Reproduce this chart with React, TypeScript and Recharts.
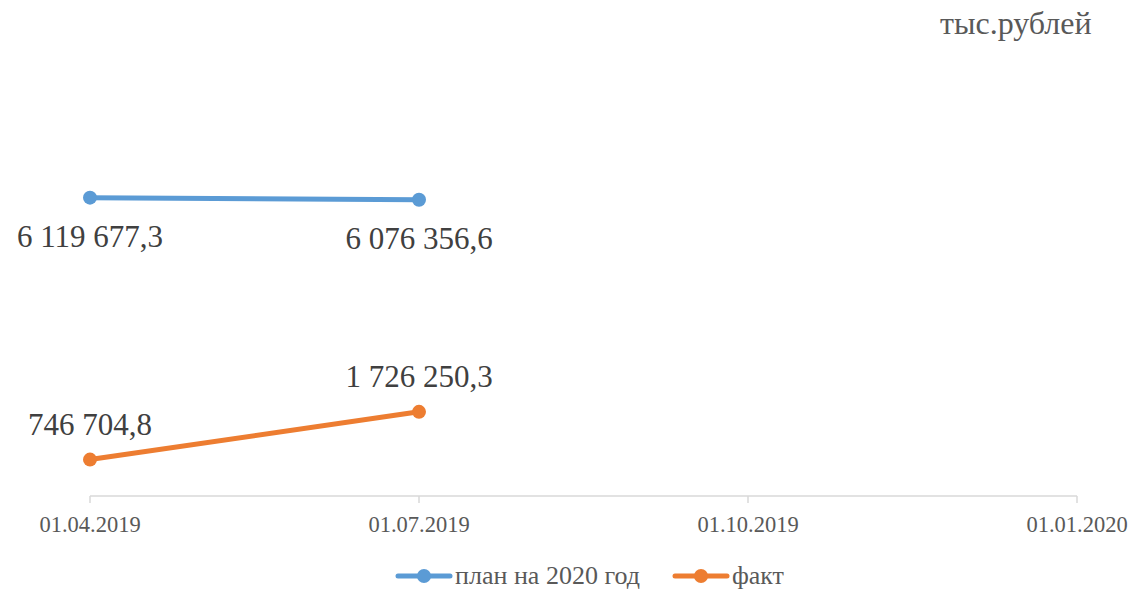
import React from 'react'
import { LineChart, Line, XAxis, YAxis, LabelList, Legend } from 'recharts'

const dates = ['01.04.2019', '01.07.2019', '01.10.2019', '01.01.2020']
const plan = [6119677.3, 6076356.6, null, null]
const fact = [746704.8, 1726250.3, null, null]

const data = dates.map((d, i) => ({ date: d, plan: plan[i], fact: fact[i] }))

const BLUE = '#5B9BD5'
const ORANGE = '#ED7D31'
const FONT = '"Liberation Serif", "Times New Roman", serif'

function fmt(v: number): string {
  const [int, dec] = v.toFixed(1).split('.')
  return int.replace(/\B(?=(\d{3})+(?!\d))/g, ' ') + ',' + dec
}

function makeLabel(dy: number) {
  return (props: any) => {
    const { x, y, value } = props
    if (value == null) return null
    return (
      <text x={x} y={y + dy} textAnchor="middle" dominantBaseline="central" fill="#404040" fontSize={31} fontFamily={FONT}>
        {fmt(value)}
      </text>
    )
  }
}

function LegendContent() {
  const items = [
    { name: 'план на 2020 год', color: BLUE },
    { name: 'факт', color: ORANGE },
  ]
  return (
    <div style={{ display: 'flex', justifyContent: 'center', gap: 32, fontFamily: FONT, fontSize: 26, color: '#595959', paddingTop: 10, paddingLeft: 12 }}>
      {items.map((it) => (
        <div key={it.name} style={{ display: 'flex', alignItems: 'center' }}>
          <svg width={58} height={16} style={{ marginRight: 2 }}>
            <line x1={3} y1={8} x2={55} y2={8} stroke={it.color} strokeWidth={5} strokeLinecap="round" />
            <circle cx={29} cy={8} r={7} fill={it.color} />
          </svg>
          <span>{it.name}</span>
        </div>
      ))}
    </div>
  )
}

export default function App() {
  return (
    <div style={{ position: 'absolute', left: 0, top: 0, width: 1135, height: 591, background: '#fff' }}>
      <div style={{ position: 'absolute', left: 940, top: 5, fontFamily: FONT, fontSize: 32, color: '#595959' }}>
        тыс.рублей
      </div>
      <LineChart width={1135} height={591} data={data} margin={{ top: 106, right: 58, bottom: 25, left: 90 }}>
        <XAxis
          dataKey="date"
          height={30}
          stroke="#D9D9D9"
          strokeWidth={1.5}
          tickSize={7}
          tick={{ fill: '#595959', fontSize: 22.5, fontFamily: FONT, dy: 11 }}
          interval={0}
        />
        <YAxis hide domain={[0, 8000000]} />
        <Legend verticalAlign="bottom" content={<LegendContent />} height={40} wrapperStyle={{ bottom: 0 }} />
        <Line
          dataKey="plan"
          stroke={BLUE}
          strokeWidth={5}
          dot={{ r: 7, fill: BLUE, stroke: BLUE, strokeWidth: 0 }}
          activeDot={false}
          isAnimationActive={false}
          connectNulls={false}
        >
          <LabelList dataKey="plan" content={makeLabel(39)} />
        </Line>
        <Line
          dataKey="fact"
          stroke={ORANGE}
          strokeWidth={5}
          dot={{ r: 7, fill: ORANGE, stroke: ORANGE, strokeWidth: 0 }}
          activeDot={false}
          isAnimationActive={false}
          connectNulls={false}
        >
          <LabelList dataKey="fact" content={makeLabel(-35)} />
        </Line>
      </LineChart>
    </div>
  )
}
